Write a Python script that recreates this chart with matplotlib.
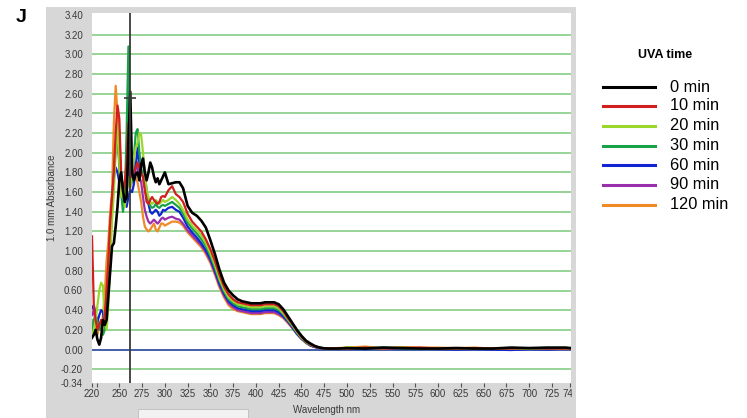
import matplotlib
matplotlib.use("Agg")
import matplotlib.pyplot as plt
from matplotlib.patches import Rectangle
from matplotlib.lines import Line2D
from matplotlib.transforms import Bbox, TransformedBbox

plt.rcParams['font.family'] = ['Liberation Sans', 'DejaVu Sans']

# ---------------------------------------------------------------- data
wavelength = [
    220, 222, 224, 226, 228, 230, 232, 234, 236, 238, 240, 242, 244, 246, 248,
    250, 252, 254, 256, 258, 260, 262, 264, 266, 268, 270, 272, 274, 276, 278,
    280, 282, 284, 286, 288, 290, 292, 294, 296, 298, 300,
    304, 308, 312, 316, 320, 325, 330, 335, 340, 345, 350, 355, 360, 365, 370,
    375, 380, 385, 390, 395, 400, 405, 410, 415, 420, 425, 430, 435, 440, 445,
    450, 455, 460, 465, 470, 475, 480,
    490, 500, 520, 540, 560, 580, 600, 620, 640, 660, 680, 700, 720, 740, 746,
]

abs_0min = [
    0.12, 0.15, 0.20, 0.10, 0.05, 0.12, 0.30, 0.25, 0.30, 0.55, 0.80, 1.05, 1.08, 1.25, 1.45,
    1.72, 1.80, 1.62, 1.50, 1.55, 2.10, 2.62, 1.80, 1.72, 1.78, 1.80, 1.72, 1.88, 1.94, 1.80,
    1.72, 1.80, 1.90, 1.85, 1.76, 1.70, 1.74, 1.68, 1.72, 1.76, 1.80,
    1.68, 1.69, 1.70, 1.70, 1.64, 1.46, 1.39, 1.36, 1.31, 1.24, 1.11, 0.97, 0.81, 0.68, 0.60,
    0.55, 0.51, 0.49, 0.48, 0.47, 0.47, 0.47, 0.48, 0.48, 0.48, 0.46, 0.41, 0.34, 0.27, 0.20,
    0.14, 0.09, 0.06, 0.035, 0.02, 0.012, 0.01,
    0.01, 0.015, 0.01, 0.02, 0.015, 0.01, 0.01, 0.015, 0.01, 0.01, 0.02, 0.015, 0.02, 0.02, 0.015,
]
abs_10min = [
    1.15, 0.45, 0.30, 0.20, 0.25, 0.30, 0.25, 0.35, 0.60, 0.90, 1.30, 1.55, 1.80, 2.20, 2.48,
    2.35, 1.80, 1.60, 1.70, 1.90, 2.30, 1.90, 1.75, 1.80, 1.85, 1.90, 1.85, 1.80, 1.75, 1.62,
    1.50, 1.48, 1.52, 1.55, 1.52, 1.50, 1.48, 1.50, 1.55, 1.56, 1.55,
    1.62, 1.66, 1.58, 1.55, 1.50, 1.38, 1.30, 1.25, 1.20, 1.12, 1.02, 0.90, 0.76, 0.64, 0.56,
    0.51, 0.48, 0.47, 0.46, 0.45, 0.45, 0.45, 0.46, 0.46, 0.46, 0.44, 0.39, 0.32, 0.26, 0.19,
    0.13, 0.08, 0.05, 0.03, 0.02, 0.012, 0.01,
    0.015, 0.01, 0.02, 0.01, 0.015, 0.02, 0.01, 0.01, 0.015, 0.01, 0.01, 0.015, 0.01, 0.01, 0.01,
]
abs_20min = [
    0.15, 0.20, 0.30, 0.45, 0.60, 0.68, 0.65, 0.30, 0.20, 0.45, 0.90, 1.30, 1.60, 2.00, 2.30,
    1.90, 1.55, 1.70, 1.45, 1.60, 1.75, 1.65, 1.80, 1.95, 2.05, 2.10, 2.20, 2.18, 2.00, 1.80,
    1.62, 1.55, 1.50, 1.48, 1.50, 1.52, 1.50, 1.48, 1.50, 1.52, 1.50,
    1.52, 1.55, 1.52, 1.48, 1.42, 1.32, 1.26, 1.21, 1.16, 1.08, 0.98, 0.86, 0.72, 0.61, 0.53,
    0.49, 0.46, 0.45, 0.44, 0.43, 0.43, 0.43, 0.44, 0.44, 0.44, 0.42, 0.37, 0.31, 0.25, 0.18,
    0.12, 0.08, 0.05, 0.03, 0.02, 0.012, 0.01,
    0.01, 0.02, 0.015, 0.01, 0.02, 0.01, 0.015, 0.01, 0.01, 0.015, 0.01, 0.01, 0.015, 0.01, 0.01,
]
abs_30min = [
    0.20, 0.30, 0.35, 0.28, 0.20, 0.25, 0.15, 0.20, 0.40, 0.80, 1.20, 1.50, 1.80, 2.10, 2.20,
    1.85, 1.60, 1.40, 1.55, 2.20, 3.08, 2.00, 1.70, 1.95, 2.20, 2.24, 2.00, 1.85, 1.75, 1.65,
    1.55, 1.50, 1.46, 1.44, 1.45, 1.48, 1.45, 1.44, 1.46, 1.47, 1.46,
    1.48, 1.50, 1.47, 1.44, 1.38, 1.29, 1.23, 1.18, 1.12, 1.05, 0.95, 0.83, 0.70, 0.59, 0.51,
    0.47, 0.44, 0.43, 0.42, 0.41, 0.41, 0.41, 0.42, 0.42, 0.42, 0.40, 0.36, 0.30, 0.24, 0.17,
    0.12, 0.07, 0.045, 0.03, 0.02, 0.012, 0.01,
    0.01, 0.01, 0.015, 0.02, 0.01, 0.015, 0.01, 0.01, 0.015, 0.01, 0.01, 0.01, 0.01, 0.015, 0.01,
]
abs_60min = [
    0.42, 0.45, 0.35, 0.28, 0.35, 0.40, 0.38, 0.25, 0.35, 0.70, 1.10, 1.45, 1.75, 1.85, 1.80,
    1.70, 1.55, 1.60, 1.50, 1.45, 1.55, 1.62, 1.60, 1.68, 1.85, 2.05, 1.90, 1.85, 1.95, 1.80,
    1.60, 1.48, 1.40, 1.38, 1.40, 1.42, 1.40, 1.36, 1.38, 1.42, 1.41,
    1.44, 1.45, 1.42, 1.40, 1.34, 1.25, 1.19, 1.14, 1.08, 1.01, 0.92, 0.80, 0.67, 0.57, 0.49,
    0.45, 0.42, 0.41, 0.40, 0.39, 0.39, 0.39, 0.40, 0.40, 0.40, 0.38, 0.34, 0.29, 0.23, 0.16,
    0.11, 0.07, 0.04, 0.025, 0.015, 0.01, 0.01,
    0.005, 0.01, 0.005, 0.01, 0.005, 0.01, 0.005, 0.0, 0.005, 0.0, -0.005, 0.005, 0.0, 0.01, 0.005,
]
abs_90min = [
    0.35, 0.40, 0.28, 0.30, 0.22, 0.30, 0.25, 0.30, 0.50, 0.85, 1.20, 1.55, 1.75, 2.05, 2.20,
    1.90, 1.65, 1.55, 1.60, 1.70, 1.85, 1.70, 1.75, 1.80, 1.90, 1.85, 1.75, 1.70, 1.55, 1.42,
    1.35, 1.30, 1.28, 1.30, 1.32, 1.30, 1.28, 1.30, 1.33, 1.34, 1.32,
    1.34, 1.35, 1.33, 1.32, 1.28, 1.21, 1.16, 1.11, 1.06, 0.99, 0.90, 0.78, 0.65, 0.55, 0.47,
    0.43, 0.40, 0.39, 0.38, 0.37, 0.37, 0.37, 0.38, 0.38, 0.38, 0.36, 0.33, 0.28, 0.22, 0.16,
    0.11, 0.07, 0.04, 0.025, 0.015, 0.01, 0.01,
    0.01, 0.005, 0.01, 0.01, 0.005, 0.01, 0.01, 0.005, 0.01, 0.005, 0.01, 0.005, 0.01, 0.005, 0.01,
]
abs_120min = [
    0.30, 0.25, 0.20, 0.15, 0.25, 0.20, 0.35, 0.55, 0.90, 1.10, 1.40, 1.60, 2.30, 2.68, 2.40,
    2.20, 1.70, 1.65, 1.55, 1.60, 1.75, 1.65, 1.70, 1.80, 1.75, 1.70, 1.60, 1.50, 1.35, 1.25,
    1.22, 1.20, 1.22, 1.25, 1.28, 1.22, 1.20, 1.24, 1.28, 1.28, 1.26,
    1.28, 1.30, 1.30, 1.29, 1.26, 1.19, 1.14, 1.09, 1.04, 0.97, 0.88, 0.76, 0.63, 0.53, 0.45,
    0.41, 0.39, 0.38, 0.37, 0.36, 0.36, 0.36, 0.37, 0.37, 0.37, 0.35, 0.32, 0.27, 0.22, 0.16,
    0.11, 0.07, 0.04, 0.025, 0.015, 0.01, 0.01,
    0.015, 0.02, 0.03, 0.015, 0.025, 0.02, 0.02, 0.015, 0.02, 0.01, 0.015, 0.01, 0.015, 0.01, 0.01,
]

series_labels = ['0 min', '10 min', '20 min', '30 min', '60 min', '90 min', '120 min']
series_values = [abs_0min, abs_10min, abs_20min, abs_30min, abs_60min, abs_90min, abs_120min]
series_colors = ['#000000', '#d11f1f', '#9ad62c', '#17a24a', '#1024d2', '#9a2fae', '#f08a26']

x_ticks = [220, 225, 250, 275, 300, 325, 350, 375, 400, 425, 450, 475, 500,
           525, 550, 575, 600, 625, 650, 675, 700, 725, 745]
x_tick_labels = ['220', '', '250', '275', '300', '325', '350', '375', '400', '425',
                 '450', '475', '500', '525', '550', '575', '600', '625', '650', '675',
                 '700', '725', '745']
y_ticks = [-0.34, -0.20, 0.00, 0.20, 0.40, 0.60, 0.80, 1.00, 1.20, 1.40, 1.60, 1.80,
           2.00, 2.20, 2.40, 2.60, 2.80, 3.00, 3.20, 3.40]
grid_levels = [-0.20, 0.20, 0.40, 0.60, 0.80, 1.00, 1.20, 1.40, 1.60, 1.80,
               2.00, 2.20, 2.40, 2.60, 2.80, 3.00, 3.20]
cursor_nm = 261.5
cursor_mark = 2.56

# ---------------------------------------------------------------- figure
W, H = 747, 418
fig = plt.figure(figsize=(W / 100, H / 100), dpi=100)
fig.patch.set_facecolor('white')


def fx(px):
    return px / W


def fy(py):
    return 1 - py / H


# grey instrument panel behind the plot
fig.add_artist(Rectangle((fx(46), 0), fx(576) - fx(46), fy(7), transform=fig.transFigure,
                         facecolor='#d7d7d7', edgecolor='none', zorder=0))
fig.add_artist(Rectangle((fx(138), fy(418)), fx(248) - fx(138), fy(409) - fy(418),
                         transform=fig.transFigure, facecolor='#f2f2f2',
                         edgecolor='#bdbdbd', linewidth=0.6, zorder=0.5))

ax = fig.add_axes([fx(92), fy(383), fx(571) - fx(92), fy(13) - fy(383)])
ax.set_facecolor('white')
for s in ax.spines.values():
    s.set_visible(False)

ax.set_xlim(220, 746)
ax.set_ylim(-0.34, 3.42)

for g in grid_levels:
    ax.axhline(g, color='#8fd08f', lw=1.3, zorder=1)
ax.axhline(0.0, color='#3553a3', lw=1.3, zorder=1.2)

for vals, col in zip(reversed(series_values), reversed(series_colors)):
    ax.plot(wavelength, vals, color=col, lw=1.9 if col == '#000000' else 1.6,
            zorder=3 if col == '#000000' else 2, solid_joinstyle='round')

ax.axvline(cursor_nm, color='#3a3a3a', lw=1.3, zorder=4)
ax.plot([cursor_nm], [cursor_mark], marker='_', ms=9, mew=1.2, color='#3a3a3a', zorder=4)

ax.set_xticks(x_ticks)
ax.set_xticklabels(x_tick_labels)
ax.set_yticks(y_ticks)
ax.set_yticklabels([f'{v:.2f}' for v in y_ticks])
ax.tick_params(axis='x', direction='out', length=3, width=0.8, color='#555555',
               labelsize=7, labelcolor='#3a3a3a', pad=1.5)
ax.tick_params(axis='y', length=0, labelsize=7, labelcolor='#3a3a3a', pad=6.5)

clip = TransformedBbox(Bbox([[0, 0], [fx(572), 1]]), fig.transFigure)
for t in ax.xaxis.get_major_ticks():
    t.label1.set_clip_box(clip)
    t.label1.set_clip_on(True)

ax.set_ylabel('1.0 mm Absorbance', fontsize=7, color='#3a3a3a')
ax.yaxis.set_label_coords((57 - 92) / (571 - 92), 0.5)
ax.set_xlabel('Wavelength nm', fontsize=7, color='#3a3a3a')
ax.xaxis.set_label_coords((327 - 92) / (571 - 92), -(405 - 383) / (383 - 13))

fig.text(fx(21), fy(18), 'J', fontsize=14, fontweight='bold', ha='center', va='center')

# legend
fig.text(fx(665), fy(55), 'UVA time', fontsize=9, fontweight='bold', ha='center', va='center')
entry_y = [87, 106, 126, 146, 165, 185, 205]
for lab, col, py in zip(series_labels, series_colors, entry_y):
    fig.add_artist(Line2D([fx(603), fx(655)], [fy(py), fy(py)], transform=fig.transFigure,
                          color=col, lw=2.2))
    fig.text(fx(670), fy(py), lab, fontsize=11.8, ha='left', va='center')

fig.savefig('out.png', dpi=100)
